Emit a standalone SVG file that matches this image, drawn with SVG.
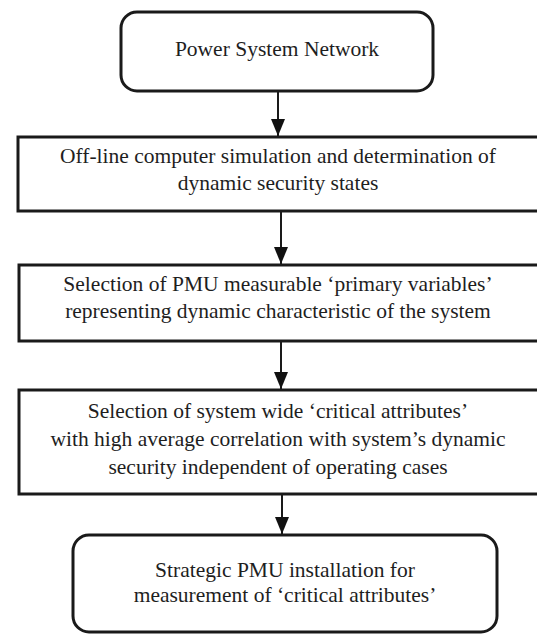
<svg xmlns="http://www.w3.org/2000/svg" width="537" height="634" viewBox="0 0 537 634">
<style>
.box{fill:#fff;stroke:#1a1a1a;stroke-width:3}
.t{font-size:21.5px;fill:#1e1e1e;text-anchor:middle}
.c{stroke:#1a1a1a;stroke-width:2;fill:none}
</style>
<defs>
<marker id="ah" markerWidth="17" markerHeight="14" refX="17" refY="7" orient="auto" markerUnits="userSpaceOnUse" viewBox="0 0 17 14">
<path d="M0,0 L17,7 L0,14 Z" fill="#111"/>
</marker>
</defs>
<rect width="537" height="634" fill="#fff"/>
<g font-family="Liberation Serif, serif">
<g id="n1">
<rect class="box" x="121" y="12" width="312" height="79" rx="16"/>
<text class="t" x="277" y="56">Power System Network</text>
</g>
<g id="n2">
<rect class="box" x="18" y="137" width="521" height="74"/>
<text class="t" x="278" y="163">Off-line computer simulation and determination of</text>
<text class="t" x="278" y="190">dynamic security states</text>
</g>
<g id="n3">
<rect class="box" x="19" y="265" width="520" height="76"/>
<text class="t" x="278" y="291">Selection of PMU measurable ‘primary variables’</text>
<text class="t" x="278" y="318">representing dynamic characteristic of the system</text>
</g>
<g id="n4">
<rect class="box" x="19" y="390" width="520" height="104"/>
<text class="t" x="278" y="418">Selection of system wide ‘critical attributes’</text>
<text class="t" x="278" y="446">with high average correlation with system’s dynamic</text>
<text class="t" x="278" y="474">security independent of operating cases</text>
</g>
<g id="n5">
<rect class="box" x="73" y="535" width="424" height="97" rx="16"/>
<text class="t" x="285" y="577">Strategic PMU installation for</text>
<text class="t" x="285" y="602">measurement of ‘critical attributes’</text>
</g>
</g>
<g id="connectors">
<line class="c" x1="278" y1="92" x2="278" y2="136" marker-end="url(#ah)"/>
<line class="c" x1="281" y1="212" x2="281" y2="264" marker-end="url(#ah)"/>
<line class="c" x1="281" y1="342" x2="281" y2="389" marker-end="url(#ah)"/>
<line class="c" x1="282" y1="495" x2="282" y2="534" marker-end="url(#ah)"/>
</g>
</svg>
